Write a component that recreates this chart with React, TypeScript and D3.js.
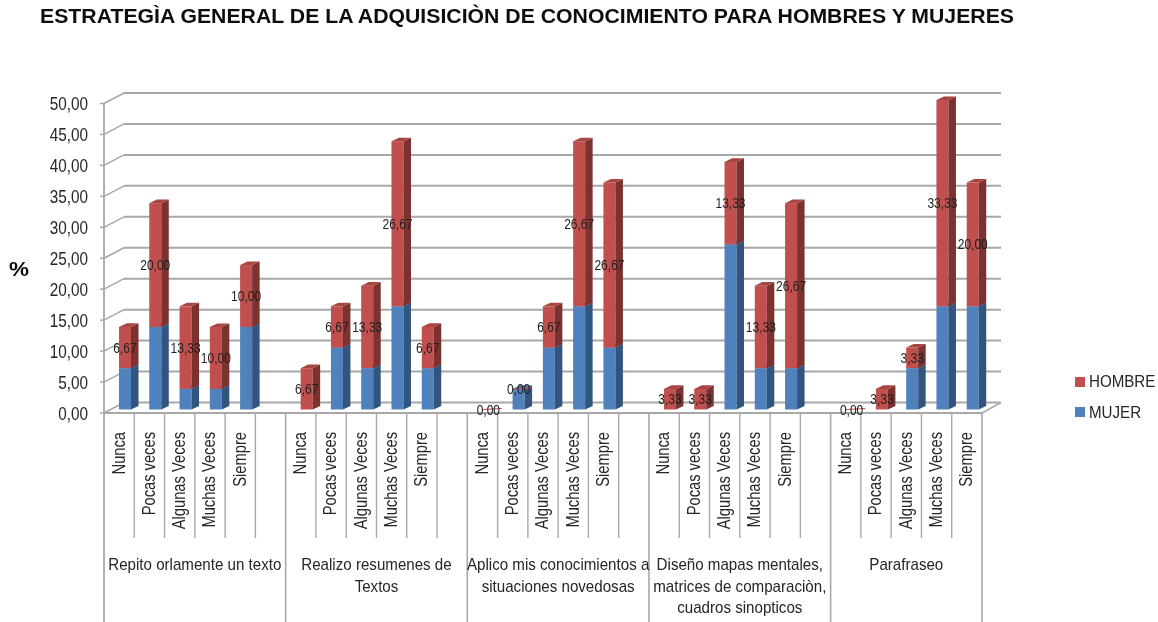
import React from "react";
import * as d3 from "d3";

const title = "ESTRATEGÌA GENERAL DE LA ADQUISICIÒN DE CONOCIMIENTO PARA HOMBRES Y MUJERES";
const yTicks = [0, 5, 10, 15, 20, 25, 30, 35, 40, 45, 50];
const responses = ["Nunca", "Pocas veces", "Algunas Veces", "Muchas Veces", "Siempre"];
const groupLabels = [
  ["Repito orlamente  un texto"],
  ["Realizo resumenes de", "Textos"],
  ["Aplico mis conocimientos a", "situaciones novedosas"],
  ["Diseño mapas mentales,", "matrices de comparaciòn,", "cuadros sinopticos"],
  ["Parafraseo"],
];
const mujer = [
  [6.67, 13.33, 3.33, 3.33, 13.33],
  [0, 10, 6.67, 16.67, 6.67],
  [0, 3.33, 10, 16.67, 10],
  [0, 0, 26.67, 6.67, 6.67],
  [0, 0, 6.67, 16.67, 16.67],
];
const hombre = [
  [6.67, 20, 13.33, 10, 10],
  [6.67, 6.67, 13.33, 26.67, 6.67],
  [0, 0, 6.67, 26.67, 26.67],
  [3.33, 3.33, 13.33, 13.33, 26.67],
  [0, 3.33, 3.33, 33.33, 20],
];

const fmt = (v: number) => v.toFixed(2).replace(".", ",");
const FONT = "'Liberation Sans', Arial, sans-serif";
const TXT = "#262626";
const GRID = "#a8a8a8";

const slotX = d3.scaleLinear().domain([0, 29]).range([104, 982]);
const yAxis = d3.scaleLinear().domain([0, 50]).range([413, 103.5]);
const yBack = d3.scaleLinear().domain([0, 50]).range([402.5, 93]);
const yBar = d3.scaleLinear().domain([0, 50]).range([409.5, 100]);
const barW = 12;
const depthX = 7.5;
const depthY = 3.6;
const backDX = 20;

function Segment({ x, y0, y1, front, side, top }: { x: number; y0: number; y1: number; front: string; side: string; top: string }) {
  const r = x + barW;
  return (
    <g>
      <rect x={x} y={y1} width={barW} height={y0 - y1} fill={front} />
      <polygon points={`${r},${y0} ${r + depthX},${y0 - depthY} ${r + depthX},${y1 - depthY} ${r},${y1}`} fill={side} />
      <polygon points={`${x},${y1} ${x + depthX},${y1 - depthY} ${r + depthX},${y1 - depthY} ${r},${y1}`} fill={top} />
    </g>
  );
}

export default function App() {
  const bars = mujer.flatMap((g, gi) =>
    g.map((m, ri) => ({ m, h: hombre[gi][ri], slot: gi * 6 + ri, gi, ri }))
  );
  const majors = [0, 6, 12, 18, 24, 29];
  const minors = d3.range(1, 29).filter((s) => !majors.includes(s));
  return (
    <svg width={1158} height={622} style={{ position: "absolute", left: 0, top: 0, background: "#fff" }} fontFamily={FONT}>
      <defs>
        <filter id="soft" x="-2%" y="-2%" width="104%" height="104%">
          <feGaussianBlur stdDeviation="0.45" />
        </filter>
      </defs>
      <g filter="url(#soft)">
        <text x={40} y={23} fontSize={19.5} fontWeight="bold" fill="#111" textLength={974} lengthAdjust="spacingAndGlyphs">{title}</text>

        {/* gridlines: back wall and side wall */}
        {yTicks.map((t) => (
          <g key={t} stroke={GRID} fill="none">
            <line x1={slotX(0) + backDX} x2={slotX(29) + backDX - 1} y1={yBack(t)} y2={yBack(t)} strokeWidth={2} />
            <line x1={slotX(0)} x2={slotX(0) + backDX} y1={yAxis(t)} y2={yBack(t)} strokeWidth={1.5} />
            <line x1={slotX(0) - 4} x2={slotX(0)} y1={yAxis(t)} y2={yAxis(t)} strokeWidth={1.5} />
          </g>
        ))}
        <line x1={slotX(0)} x2={slotX(0)} y1={yAxis(50)} y2={622} stroke={GRID} strokeWidth={1.8} />
        <line x1={slotX(0)} x2={slotX(29)} y1={yAxis(0)} y2={yAxis(0)} stroke={GRID} strokeWidth={1.8} />
        <line x1={slotX(29)} x2={slotX(29) + backDX - 1} y1={yAxis(0)} y2={yBack(0)} stroke={GRID} strokeWidth={1.5} />

        {/* category separators */}
        {minors.map((s) => (
          <line key={s} x1={slotX(s)} x2={slotX(s)} y1={yAxis(0)} y2={538} stroke={GRID} strokeWidth={1.4} />
        ))}
        {majors.slice(1).map((s) => (
          <line key={s} x1={slotX(s)} x2={slotX(s)} y1={yAxis(0)} y2={622} stroke={GRID} strokeWidth={1.6} />
        ))}

        {/* y tick labels */}
        {yTicks.map((t) => (
          <text key={t} transform={`translate(88,${yAxis(t) + 6.5}) scale(0.85,1)`} textAnchor="end" fontSize={18} fill={TXT}>{fmt(t)}</text>
        ))}
        <text x={9} y={276} fontSize={20} fontWeight="bold" fill="#111" textLength={20} lengthAdjust="spacingAndGlyphs">%</text>

        {/* stacked bars */}
        {bars.map((b) => {
          const x = slotX(b.slot) + 15;
          return (
            <g key={b.slot}>
              {b.m > 0 && <Segment x={x} y0={yBar(0)} y1={yBar(b.m)} front="#4f81bd" side="#33557f" top="#456f9f" />}
              {b.h > 0 && <Segment x={x} y0={yBar(b.m)} y1={yBar(b.m + b.h)} front="#c0504d" side="#7b302e" top="#a84541" />}
            </g>
          );
        })}

        {/* zero hombre dash */}
        {bars.filter((b) => b.h === 0).map((b) => (
          <line key={b.slot} x1={slotX(b.slot) + 15} x2={slotX(b.slot) + 15 + barW + depthX} y1={yBar(b.m)} y2={yBar(b.m) - 1} stroke="#c0504d" strokeWidth={1} />
        ))}

        {/* data labels */}
        {bars.map((b) => (
          <text key={b.slot} transform={`translate(${slotX(b.slot) + 21},${yBar(b.m + b.h / 2) + 5}) scale(0.8,1)`} textAnchor="middle" fontSize={15} fill="#222">{fmt(b.h)}</text>
        ))}

        {/* rotated response labels */}
        {bars.map((b) => (
          <text key={b.slot} transform={`translate(${slotX(b.slot) + 20.5},432) rotate(-90) scale(0.84,1)`} textAnchor="end" fontSize={17.5} fill={TXT}>{responses[b.ri]}</text>
        ))}

        {/* group labels */}
        {groupLabels.map((lines, gi) => {
          const cx = (slotX(majors[gi]) + slotX(majors[gi + 1])) / 2;
          return lines.map((l, li) => (
            <text key={li} transform={`translate(${cx},${570 + li * 21.5}) scale(0.89,1)`} textAnchor="middle" fontSize={17} fill={TXT}>{l}</text>
          ));
        })}

        {/* legend */}
        <rect x={1075} y={377} width={10} height={10} fill="#c0504d" />
        <text transform="translate(1089,387) scale(0.89,1)" fontSize={17} fill={TXT}>HOMBRE</text>
        <rect x={1075} y={407} width={10} height={10} fill="#4f81bd" />
        <text transform="translate(1089,418) scale(0.89,1)" fontSize={17} fill={TXT}>MUJER</text>
      </g>
    </svg>
  );
}
